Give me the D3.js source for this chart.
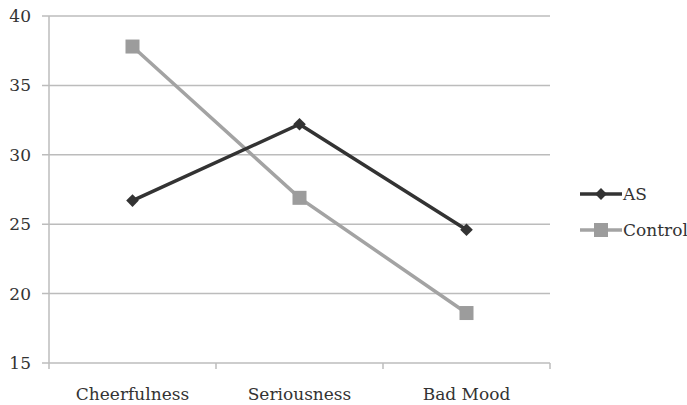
<!DOCTYPE html>
<html><head><meta charset="utf-8">
<script src="https://cdn.jsdelivr.net/npm/d3@7"></script>
<style>body{margin:0;background:#fff}svg{display:block}text{font-family:"DejaVu Serif",serif;fill:#333}</style>
</head><body><svg id="c" width="687" height="405"></svg>
<script>
const categories = ["Cheerfulness","Seriousness","Bad Mood"];
const asValues = [26.7, 32.2, 24.6];
const controlValues = [37.8, 26.9, 18.6];
const yTicks = [15,20,25,30,35,40];
const seriesNames = ["AS","Control"];

const svg = d3.select("#c");
const x = d3.scaleBand().domain(categories).range([49,550]);
const y = d3.scaleLinear().domain([15,40]).range([363,16]);

// gridlines
svg.append("g").selectAll("line").data(yTicks).join("line")
  .attr("x1",42).attr("x2",550).attr("y1",d=>y(d)).attr("y2",d=>y(d))
  .attr("stroke","#bcbcbc").attr("stroke-width",1.5);
// y axis line
svg.append("line").attr("x1",49).attr("x2",49).attr("y1",y(40)).attr("y2",y(15)).attr("stroke","#bcbcbc").attr("stroke-width",1.5);
// x ticks
const bounds = [0,1,2,3].map(i=>49+i*x.bandwidth());
svg.append("g").selectAll("line").data(bounds).join("line")
  .attr("x1",d=>d).attr("x2",d=>d).attr("y1",363).attr("y2",369)
  .attr("stroke","#bcbcbc").attr("stroke-width",1.5);
// y labels
svg.append("g").selectAll("text").data(yTicks).join("text")
  .attr("x",31).attr("y",d=>y(d)+6).attr("text-anchor","end")
  .attr("font-size",17).text(d=>d);
// x labels
svg.append("g").selectAll("text").data(categories).join("text")
  .attr("x",d=>x(d)+x.bandwidth()/2).attr("y",400).attr("text-anchor","middle")
  .attr("font-size",17).text(d=>d);

const line = d3.line().x((d,i)=>x(categories[i])+x.bandwidth()/2).y(d=>y(d));
const cx = i=>x(categories[i])+x.bandwidth()/2;

// Control
svg.append("path").datum(controlValues).attr("d",line).attr("fill","none").attr("stroke","#a3a3a3").attr("stroke-width",3.5);
svg.append("g").selectAll("rect").data(controlValues).join("rect")
  .attr("x",(d,i)=>cx(i)-7).attr("y",d=>y(d)-7).attr("width",14).attr("height",14).attr("fill","#9c9c9c");
// AS
svg.append("path").datum(asValues).attr("d",line).attr("fill","none").attr("stroke","#333").attr("stroke-width",3.5);
svg.append("g").selectAll("path").data(asValues).join("path")
  .attr("transform",(d,i)=>`translate(${cx(i)},${y(d)}) rotate(45)`)
  .attr("d",d3.symbol().type(d3.symbolSquare).size(80)).attr("fill","#333");

// legend
const lg = svg.append("g");
const ly = [194,230];
lg.append("line").attr("x1",580).attr("x2",622).attr("y1",ly[0]).attr("y2",ly[0]).attr("stroke","#333").attr("stroke-width",3.5);
lg.append("path").attr("transform",`translate(601,${ly[0]}) rotate(45)`).attr("d",d3.symbol().type(d3.symbolSquare).size(70)).attr("fill","#333");
lg.append("line").attr("x1",580).attr("x2",622).attr("y1",ly[1]).attr("y2",ly[1]).attr("stroke","#a3a3a3").attr("stroke-width",3.5);
lg.append("rect").attr("x",594).attr("y",ly[1]-7).attr("width",14).attr("height",14).attr("fill","#9c9c9c");
lg.selectAll("text").data(seriesNames).join("text")
  .attr("x",623).attr("y",(d,i)=>ly[i]+6).attr("font-size",17).text(d=>d);
</script></body></html>
